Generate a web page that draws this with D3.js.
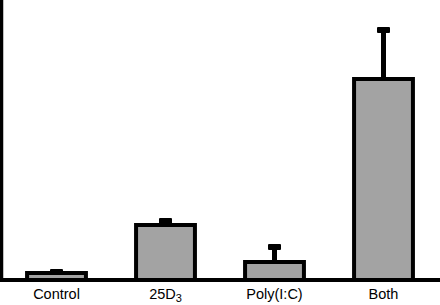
<!DOCTYPE html>
<html>
<head>
<meta charset="utf-8">
<script src="https://cdn.jsdelivr.net/npm/d3@7"></script>
<style>
  body { margin: 0; background: #fff; }
  svg { display: block; }
  .label { font-family: 'Liberation Sans', Arial, sans-serif; font-size: 14.5px; fill: #000; }
</style>
</head>
<body>
<svg width="440" height="305"></svg>
<script>
const categories = ['Control', '25D3', 'Poly(I:C)', 'Both']
const values = [0.7, 5.5, 1.8, 20.1]
const errors = [0.4, 0.7, 1.8, 5.2]

const data = categories.map((c, i) => ({ name: c, value: values[i], err: errors[i] }))

const svg = d3.select('svg')
const width = +svg.attr('width')

const baseY = 280

const xScale = d3.scaleBand()
  .domain(categories)
  .range([2, 438])
  .paddingInner(0.46)
  .paddingOuter(0.23)

const yScale = d3.scaleLinear()
  .domain([0, 28])
  .range([baseY, 0])

const g = svg.append('g')

// error bars (stem + cap block)
g.selectAll('.stem').data(data)
  .enter().append('rect')
  .attr('class', 'stem')
  .attr('x', d => xScale(d.name) + xScale.bandwidth() / 2 - 2.5)
  .attr('y', d => yScale(d.value + d.err))
  .attr('width', 5)
  .attr('height', d => yScale(d.value) - yScale(d.value + d.err) + 3)
  .attr('fill', '#000')

g.selectAll('.cap').data(data)
  .enter().append('rect')
  .attr('class', 'cap')
  .attr('x', d => xScale(d.name) + xScale.bandwidth() / 2 - 6.5)
  .attr('y', d => yScale(d.value + d.err))
  .attr('width', 13)
  .attr('height', 6)
  .attr('rx', 1)
  .attr('fill', '#000')

// bars
g.selectAll('.bar').data(data)
  .enter().append('rect')
  .attr('class', 'bar')
  .attr('x', d => xScale(d.name))
  .attr('y', d => yScale(d.value))
  .attr('width', xScale.bandwidth())
  .attr('height', d => baseY - yScale(d.value))
  .attr('fill', '#a3a3a3')
  .attr('stroke', '#000')
  .attr('stroke-width', 4)

// axes
g.append('line')
  .attr('x1', 0).attr('x2', width)
  .attr('y1', baseY).attr('y2', baseY)
  .attr('stroke', '#000').attr('stroke-width', 4)

g.append('line')
  .attr('x1', 1.5).attr('x2', 1.5)
  .attr('y1', 0).attr('y2', baseY)
  .attr('stroke', '#000').attr('stroke-width', 3.5)

// category labels
const labels = g.selectAll('.label').data(data)
  .enter().append('text')
  .attr('class', 'label')
  .attr('x', d => xScale(d.name) + xScale.bandwidth() / 2)
  .attr('y', 299)
  .attr('text-anchor', 'middle')

labels.each(function (d) {
  const t = d3.select(this)
  if (d.name === '25D3') {
    t.append('tspan').text('25D')
    t.append('tspan').attr('font-size', '11px').attr('dy', 3).text('3')
  } else {
    t.text(d.name)
  }
})
</script>
</body>
</html>
